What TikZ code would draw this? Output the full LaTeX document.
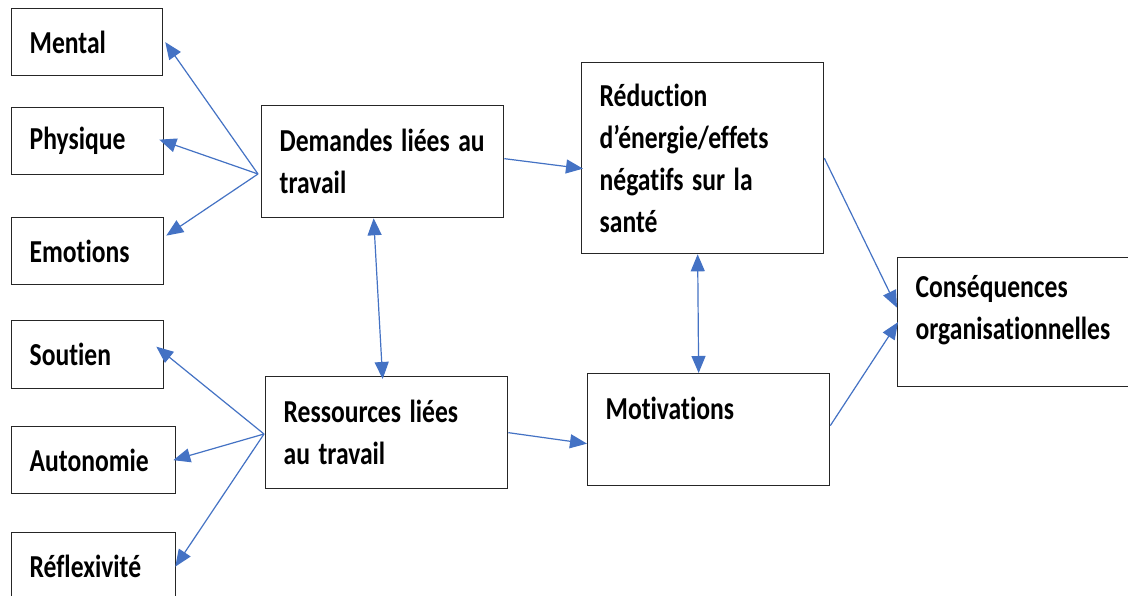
\documentclass[tikz,border=0pt]{standalone}
\usepackage{fontspec}
\setmainfont{Carlito}[Ligatures=CommonOff]
\usetikzlibrary{arrows.meta}
\definecolor{arrblue}{HTML}{4472C4}
\newcommand\sq[1]{\scalebox{0.8}[1]{#1}}
\begin{document}
\begin{tikzpicture}[x=1pt,y=-1pt,
  box/.style={draw=black!85, line width=1.3pt, anchor=north west, inner xsep=18pt, inner ysep=0pt,
    align=left, font=\bfseries\fontsize{32}{42}\selectfont},
  arr/.style={draw=arrblue, line width=1.2pt, -{Triangle[length=17pt,width=14pt]}},
  darr/.style={draw=arrblue, line width=1.2pt, {Triangle[length=17pt,width=14pt]}-{Triangle[length=17pt,width=14pt]}}]
\useasboundingbox (0,0) rectangle (1128,596);
\fill[white] (0,0) rectangle (1128,596);
\clip (0,0) rectangle (1128,596);

\node[box, text width=115pt, minimum height=67pt] (mental) at (11,8) {\sq{Mental}};
\node[box, text width=116pt, minimum height=67pt] (phys) at (11,107) {\sq{Physique}};
\node[box, text width=116pt, minimum height=67pt] (emo) at (11,217) {\sq{Emotions}};
\node[box, text width=116pt, minimum height=68pt] (sout) at (11,320) {\sq{Soutien}};
\node[box, text width=128pt, minimum height=67pt] (auto) at (11,426) {\sq{Autonomie}};
\node[box, text width=128pt, minimum height=68pt] (refl) at (11,532) {\sq{Réflexivité}};

\node[box, text width=206pt, minimum height=112pt] (dem) at (261,105) {\sq{Demandes liées au}\\\sq{travail}};
\node[box, text width=206pt, minimum height=112pt] (res) at (265,376) {\sq{Ressources liées}\\\sq{au travail}};
\node[box, text width=206pt, minimum height=191pt] (red) at (581,62) {\sq{Réduction}\\\sq{d’énergie/effets}\\\sq{négatifs sur la}\\\sq{santé}};
\node[box, text width=206pt, minimum height=112pt] (mot) at (587,373) {\sq{Motivations}\\\mbox{}};
\node[box, text width=209pt, minimum height=129pt] (cons) at (897,257) {\sq{Conséquences}\\\sq{organisationnelles}\rule[-30pt]{0pt}{30pt}};

\coordinate (dfan) at (258,174);
\coordinate (rfan) at (264,434);

\draw[arr] (dfan) -- ([xshift=2pt]mental.east);
\draw[arr] (dfan) -- ([xshift=-5pt,yshift=1.5pt]phys.east);
\draw[arr] (dfan) -- ([xshift=2pt,yshift=15.5pt]emo.east);
\draw[arr] (rfan) -- ([xshift=-8pt,yshift=8pt]sout.east);
\draw[arr] (rfan) -- ([xshift=-3pt]auto.east);
\draw[arr] (rfan) -- ([xshift=-1pt]refl.east);

\draw[arr] ([yshift=3pt]dem.east) -- ([xshift=2pt,yshift=-10.5pt]red.west);
\draw[arr] (res.east) -- ([yshift=-14pt]mot.west);
\draw[darr] ([xshift=-9pt]dem.south) -- ([xshift=-4pt,yshift=-3pt]res.north);
\draw[darr] ([xshift=-5pt]red.south) -- ([xshift=-10pt]mot.north);
\draw[arr] (red.east) -- ([yshift=14.5pt]cons.west);
\draw[arr] ([yshift=4pt]mot.east) -- ([xshift=1pt]cons.west);
\end{tikzpicture}
\end{document}
